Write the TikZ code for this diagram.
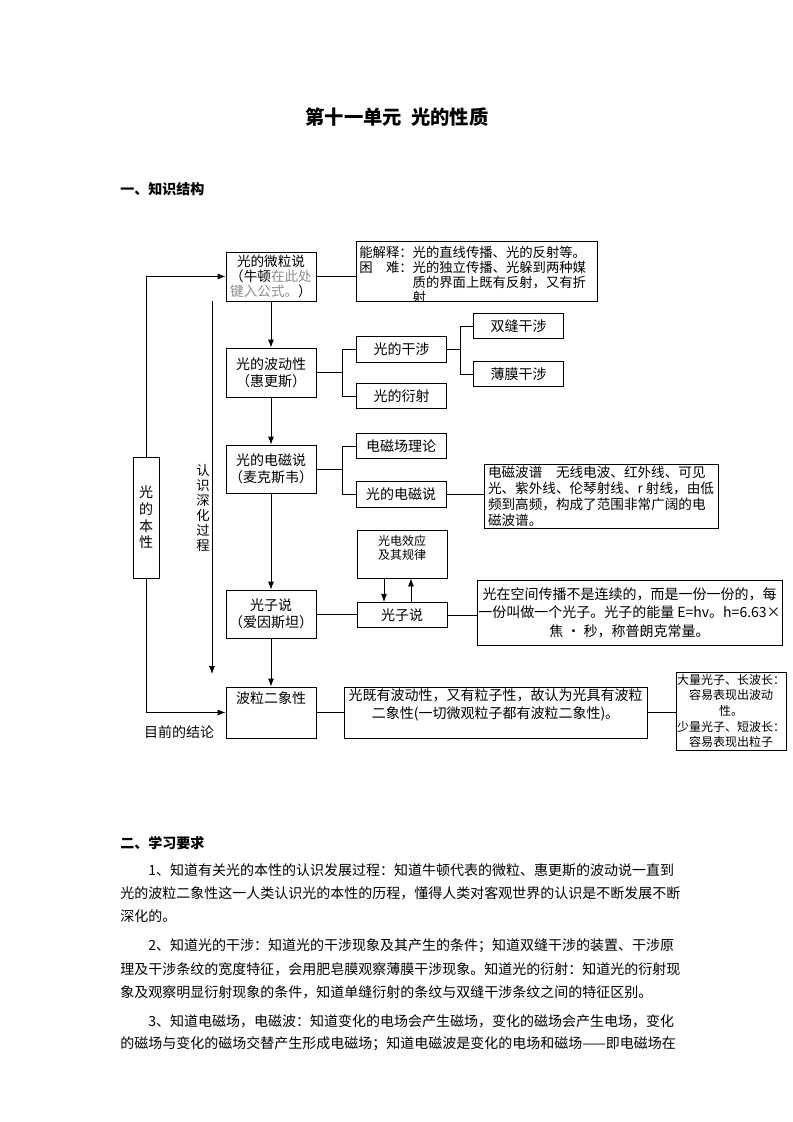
\documentclass[tikz,border=0pt]{standalone}
\usepackage{fontspec}
\usetikzlibrary{arrows.meta}
\setmainfont{Noto Sans CJK SC}
\XeTeXlinebreaklocale "zh"
\XeTeXlinebreakskip=0pt plus 3pt minus 0.2pt
\newcommand\fullline[2]{\makebox[#1][s]{#2}}
\tikzset{
  stage/.style = {shape=rectangle, draw, align=center,
                  minimum width=67.5pt, minimum height=36.75pt, inner sep=1pt,
                  font=\fontsize{10.5pt}{13pt}\selectfont},
  item/.style  = {stage, minimum height=19pt},
  note/.style  = {shape=rectangle, draw, inner sep=1pt},
  txt/.style   = {inner sep=0pt, font=\fontsize{10.5pt}{13pt}\selectfont},
  para/.style  = {anchor=west, inner sep=0pt, font=\fontsize{10.5pt}{14pt}\selectfont},
  head/.style  = {anchor=west, inner sep=0pt, font=\fontsize{10.5pt}{14pt}\selectfont\bfseries}
}

\begin{document}
\begin{tikzpicture}[x=0.75pt, y=-0.75pt, line width=0.6pt, >={Latex[length=6pt,width=4.5pt]}]
  \useasboundingbox[fill=white] (0,0) rectangle (793,1122);

  % title and heading
  \node[font=\fontsize{14.5pt}{16pt}\selectfont\bfseries] (title) at (397,117) {第十一单元\ \ 光的性质};
  \node[head] (head1) at (120,189) {一、知识结构};

  % main line of theories
  \node[stage, font=\fontsize{10.2pt}{11.25pt}\selectfont] (weili) at (271,276.5)
    {光的微粒说\\（牛顿{\color{black!45}在此处}\\{\color{black!45}键入公式。}）};
  \node[stage] (bodong) at (271,372.5) {光的波动性\\（惠更斯）};
  \node[stage, minimum height=36pt] (dianci) at (271,469) {光的电磁说\\（麦克斯韦）};
  \node[stage, minimum height=36pt] (guangzi) at (271,614) {光子说\\（爱因斯坦）};
  \node[stage, minimum height=38.25pt] (erxiang) at (271,712.5) {};
  \node[txt] (erxiangtxt) at (271,698) {波粒二象性};

  \node[stage, minimum width=19.5pt, minimum height=90.75pt,
        font=\fontsize{10.5pt}{12.5pt}\selectfont] (benxing) at (146,517.5) {光\\的\\本\\性};

  % branches
  \node[item] (ganshe) at (401.5,349.5) {光的干涉};
  \node[item] (yanshe) at (401.5,396) {光的衍射};
  \node[item] (shuangfeng) at (518.5,326) {双缝干涉};
  \node[item] (bomo) at (518.5,374) {薄膜干涉};
  \node[item] (cichang) at (401,446) {电磁场理论};
  \node[item] (dcs) at (401,494.5) {光的电磁说};
  \node[stage, minimum height=36pt] (xiaoying) at (402,554) {};
  \node[txt, align=center, font=\fontsize{9pt}{10.5pt}\selectfont] (xiaoyingtxt) at (402,548) {光电效应\\及其规律};
  \node[item] (gzs) at (402,615) {光子说};

  % notes
  \node[note, minimum width=180.75pt, minimum height=45pt] (jieshi) at (476.5,271) {};
  \begin{scope}
    \clip (jieshi.south west) rectangle (jieshi.north east);
    \node[txt, anchor=north west, align=left, font=\fontsize{10pt}{11.25pt}\selectfont] (jieshitxt) at (359,246)
      {能解释：光的直线传播、光的反射等。\\困　难：光的独立传播、光躲到两种媒\\\hspace*{40pt}质的界面上既有反射，又有折\\\hspace*{40pt}射};
  \end{scope}
  \node[note, minimum width=175.5pt, minimum height=48pt, align=left,
        font=\fontsize{10.2pt}{12pt}\selectfont] (pu) at (601,496)
    {电磁波谱\quad 无线电波、红外线、可见\\光、紫外线、伦琴射线、r 射线，由低\\频到高频，构成了范围非常广阔的电\\磁波谱。};
  \node[note, minimum width=228.75pt, minimum height=48.75pt, align=center,
        font=\fontsize{10.5pt}{14pt}\selectfont] (kongjian) at (629.5,612.5)
    {光在空间传播不是连续的，而是一份一份的，每\\一份叫做一个光子。光子的能量 E=hv。h=6.63×\\焦 · 秒，称普朗克常量。};
  \node[note, minimum width=227.25pt, minimum height=38.25pt] (jiyou) at (495.5,712.5) {};
  \node[txt, align=center, font=\fontsize{10.5pt}{14pt}\selectfont] (jiyoutxt) at (495.5,705)
    {光既有波动性，又有粒子性，故认为光具有波粒\\二象性(一切微观粒子都有波粒二象性)。};
  \node[note, minimum width=82.5pt, minimum height=58.5pt] (daliang) at (731,711) {};
  \node[txt, anchor=north, align=center, font=\fontsize{9pt}{11.8pt}\selectfont] (daliangtxt) at (731,673.5)
    {大量光子、长波长：\\容易表现出波动\\性。\\少量光子、短波长：\\容易表现出粒子};

  % connectors
  \draw[->] (weili) -- (bodong);
  \draw[->] (bodong) -- (dianci);
  \draw[->] (dianci) -- (guangzi);
  \draw[->] (guangzi) -- (erxiang);
  \draw (weili.east) -- (weili.east -| jieshi.west);
  \draw (bodong.east) -- ++(26,0) coordinate (bk1);
  \draw (ganshe.west) -| (bk1) |- (yanshe.west);
  \draw (ganshe.east) -- ++(13,0) coordinate (bk2);
  \draw (shuangfeng.west) -| (bk2) |- (bomo.west);
  \draw (dianci.east) -- ++(26,0) coordinate (bk3);
  \draw (cichang.west) -| (bk3) |- (dcs.west);
  \draw (dcs.east) -- (dcs.east -| pu.west);
  \draw (guangzi.east) -- (guangzi.east -| gzs.west);
  \draw (gzs.east) -- (gzs.east -| kongjian.west);
  \draw[->] ([xshift=-13.5pt]xiaoying.south) -- ([xshift=-13.5pt]gzs.north);
  \draw[->] ([xshift=6.75pt]gzs.north) -- ([xshift=6.75pt]xiaoying.south);
  \draw (erxiang.east) -- (erxiang.east -| jiyou.west);
  \draw (jiyou.east) -- (jiyou.east -| daliang.west);
  \draw[->] (benxing.north) |- (weili.west);
  \draw[->] (benxing.south) |- (erxiang.west);

  % process arrow
  \coordinate (deep0) at (212,301);
  \coordinate (deep1) at (212,674);
  \draw[->] (deep0) -- (deep1);
  \node[txt, align=center, font=\fontsize{10pt}{11.25pt}\selectfont] (deeptxt) at (203,507.5) {认\\识\\深\\化\\过\\程};
  \node[txt] (jielun) at (179,732) {目前的结论};

  % second part
  \node[head] (head2) at (120,843) {二、学习要求};
  \node[para] (p1) at (148,870) {\fullline{396pt}{1、知道有关光的本性的认识发展过程：知道牛顿代表的微粒、惠更斯的波动说一直到}};
  \node[para] (p2) at (120,893) {\fullline{417pt}{光的波粒二象性这一人类认识光的本性的历程，懂得人类对客观世界的认识是不断发展不断}};
  \node[para] (p3) at (120,916) {深化的。};
  \node[para] (p4) at (148,946) {\fullline{396pt}{2、知道光的干涉：知道光的干涉现象及其产生的条件；知道双缝干涉的装置、干涉原}};
  \node[para] (p5) at (120,969) {\fullline{417pt}{理及干涉条纹的宽度特征，会用肥皂膜观察薄膜干涉现象。知道光的衍射：知道光的衍射现}};
  \node[para] (p6) at (120,992) {\fullline{417pt}{象及观察明显衍射现象的条件，知道单缝衍射的条纹与双缝干涉条纹之间的特征区别。}};
  \node[para] (p7) at (148,1021) {\fullline{396pt}{3、知道电磁场，电磁波：知道变化的电场会产生磁场，变化的磁场会产生电场，变化}};
  \node[para] (p8) at (120,1044) {\fullline{417pt}{的磁场与变化的磁场交替产生形成电磁场；知道电磁波是变化的电场和磁场——即电磁场在}};
\end{tikzpicture}
\end{document}
